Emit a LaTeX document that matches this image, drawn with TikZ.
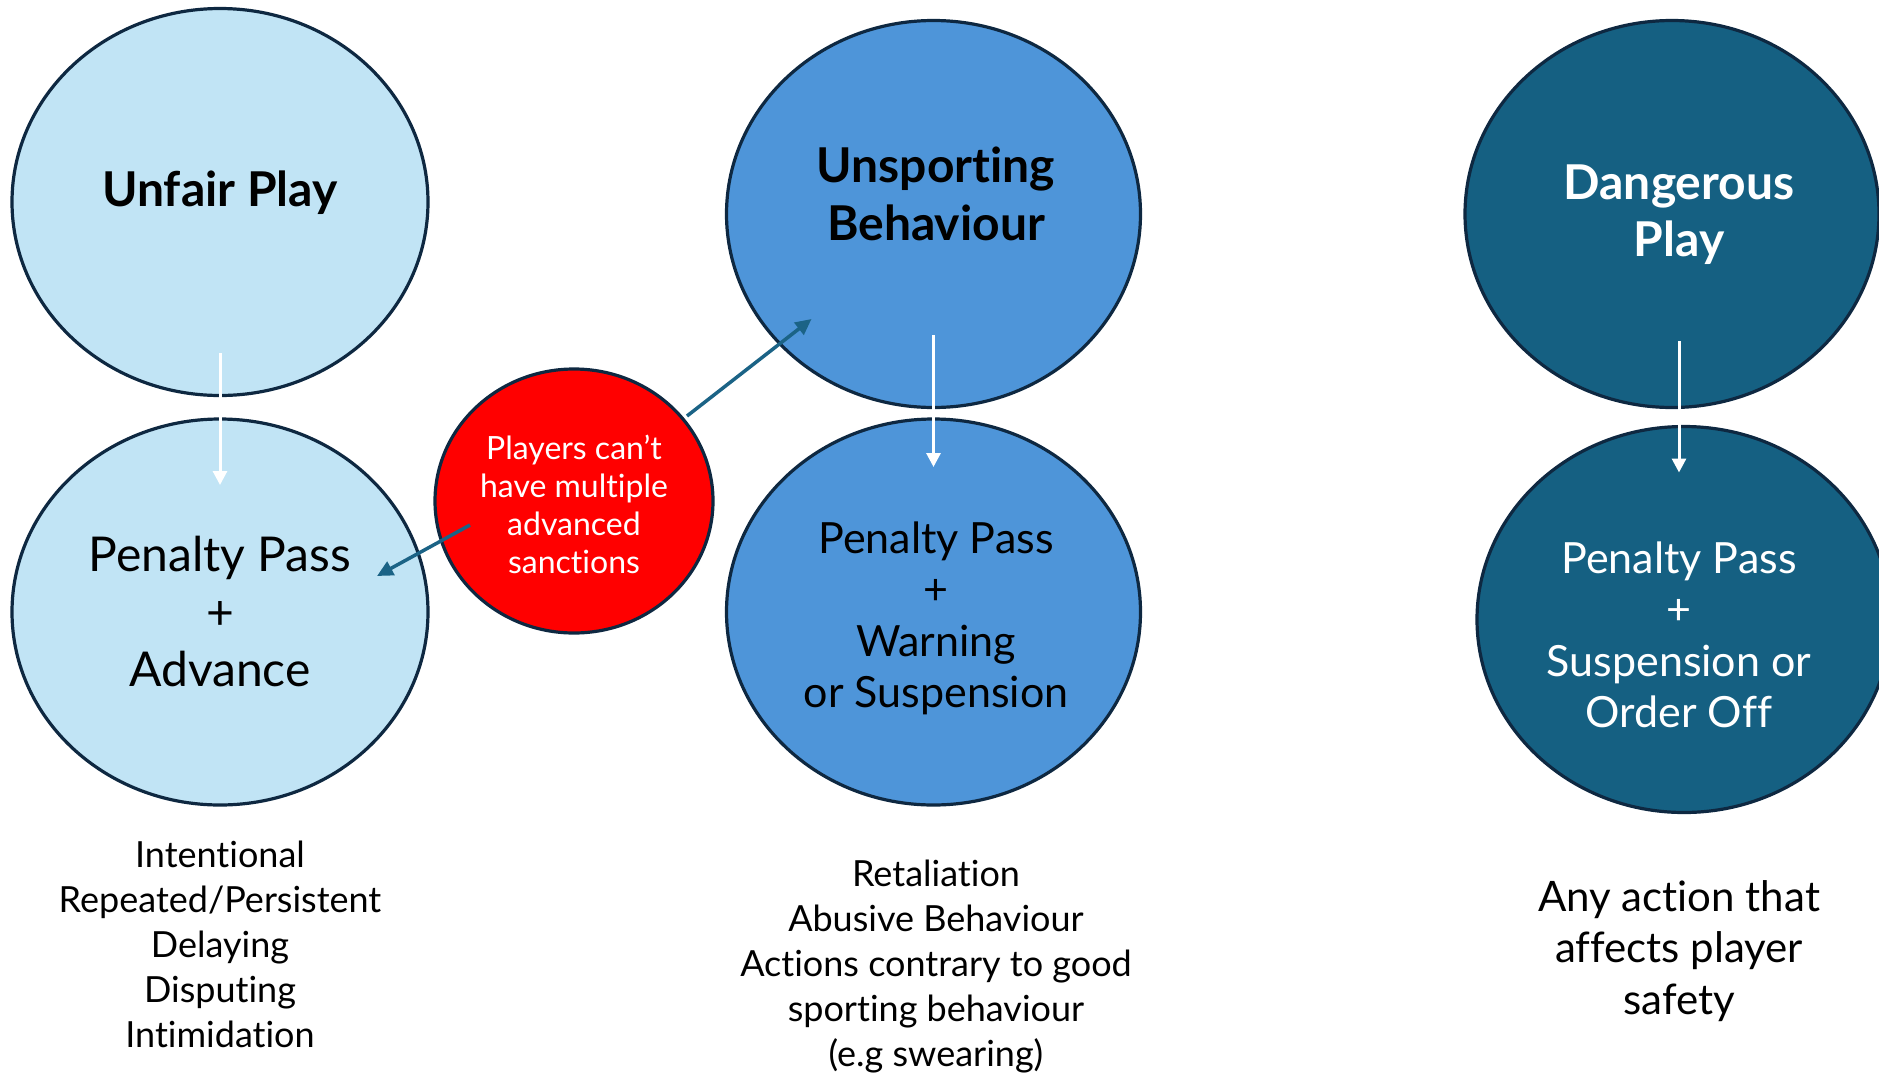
\documentclass[tikz,border=0pt]{standalone}
\usepackage{fontspec}
\setmainfont{Lato}[Ligatures=NoCommon]
\usetikzlibrary{shapes.geometric,arrows.meta,calc}
\definecolor{lightfill}{HTML}{C1E4F5}
\definecolor{midfill}{HTML}{4E95D9}
\definecolor{darkfill}{HTML}{156082}
\definecolor{rim}{HTML}{0E2841}
\definecolor{pointer}{HTML}{1B6386}
\definecolor{alert}{HTML}{FF0000}

\begin{document}
\begin{tikzpicture}[x=1pt,y=-1pt,
  bubble/.style={ellipse, draw=rim, line width=3.2pt, inner sep=0pt},
  txt/.style={align=center, inner sep=0pt},
  title/.style={txt, font=\fontsize{48}{57.5}\selectfont\bfseries},
  big/.style={txt, font=\fontsize{48}{57.5}\selectfont},
  mid/.style={txt, font=\fontsize{43}{51.5}\selectfont},
  small/.style={txt, font=\fontsize{32}{38}\selectfont},
  foot/.style={txt, font=\fontsize{36}{45}\selectfont},
  footbig/.style={txt, font=\fontsize{42}{51.5}\selectfont},
  down/.style={draw=white, line width=3pt, -{Triangle[length=14pt,width=14pt]}},
  link/.style={draw=pointer, line width=3.5pt, -{Triangle[length=16pt,width=15pt]}}
]
\useasboundingbox (0,0) rectangle (1879,1074);
\clip (0,0) rectangle (1879,1074);

% bubbles
\node[bubble, fill=lightfill, minimum width=416pt, minimum height=387pt] (unfair) at (220,202) {};
\node[bubble, fill=lightfill, minimum width=416pt, minimum height=386pt] (advance) at (220,612) {};
\node[bubble, fill=midfill, minimum width=414pt, minimum height=387pt] (unsport) at (933.5,214) {};
\node[bubble, fill=midfill, minimum width=414pt, minimum height=386pt] (warning) at (933.5,612) {};
\node[bubble, fill=darkfill, minimum width=414pt, minimum height=387pt] (danger) at (1672,214) {};
\node[bubble, fill=darkfill, minimum width=414pt, minimum height=386pt] (orderoff) at (1684,619.5) {};
\node[bubble, fill=alert, minimum width=278pt, minimum height=264pt] (rule) at (574,501) {};

% texts inside the bubbles
\node[title] (tUnfair) at (220,193) {Unfair Play};
\node[title] (tUnsport) at (936,194) {Unsporting\\Behaviour};
\node[title, text=white] (tDanger) at (1679,214.5) {Dangerous\\Play};
\node[big] (tAdvance) at (220,612) {Penalty Pass\\+\\Advance};
\node[mid] (tWarning) at (936,618.5) {Penalty Pass\\+\\Warning\\or Suspension};
\node[mid, text=white] (tOrderOff) at (1679,635) {Penalty Pass\\+\\Suspension or\\Order Off};
\node[small, text=white] (tRule) at (574,504.5) {Players can’t\\have multiple\\advanced\\sanctions};

% descriptions below
\node[foot] (dUnfair) at (220,944) {Intentional\\Repeated/Persistent\\Delaying\\Disputing\\Intimidation};
\node[foot] (dUnsport) at (936,967) {Retaliation\\Abusive Behaviour\\Actions contrary to good\\sporting behaviour\\(e.g swearing)};
\node[footbig] (dDanger) at (1679,951) {Any action that\\affects player\\safety};

% escalation arrows
\coordinate (aS) at ($(unfair.center)+(0,151)$);
\coordinate (aE) at ($(advance.center)+(0,-127)$);
\coordinate (bS) at ($(unsport.center)+(0,121)$);
\coordinate (bE) at ($(warning.center)+(0,-145)$);
\coordinate (cS) at ($(danger.center)+(7,127)$);
\coordinate (cE) at ($(orderoff.center)+(-5,-147)$);
\draw[down] (aS) -- (aE);
\draw[down] (bS) -- (bE);
\draw[down] (cS) -- (cE);

% links from the rule
\coordinate (r1) at ($(rule.center)+(-104,24)$);
\coordinate (r2) at ($(rule.center)+(113,-85)$);
\coordinate (l1) at ($(advance.center)+(157,-36)$);
\coordinate (l2) at ($(unsport.center)+(-122,105)$);
\draw[link] (r1) -- (l1);
\draw[link] (r2) -- (l2);
\end{tikzpicture}
\end{document}
